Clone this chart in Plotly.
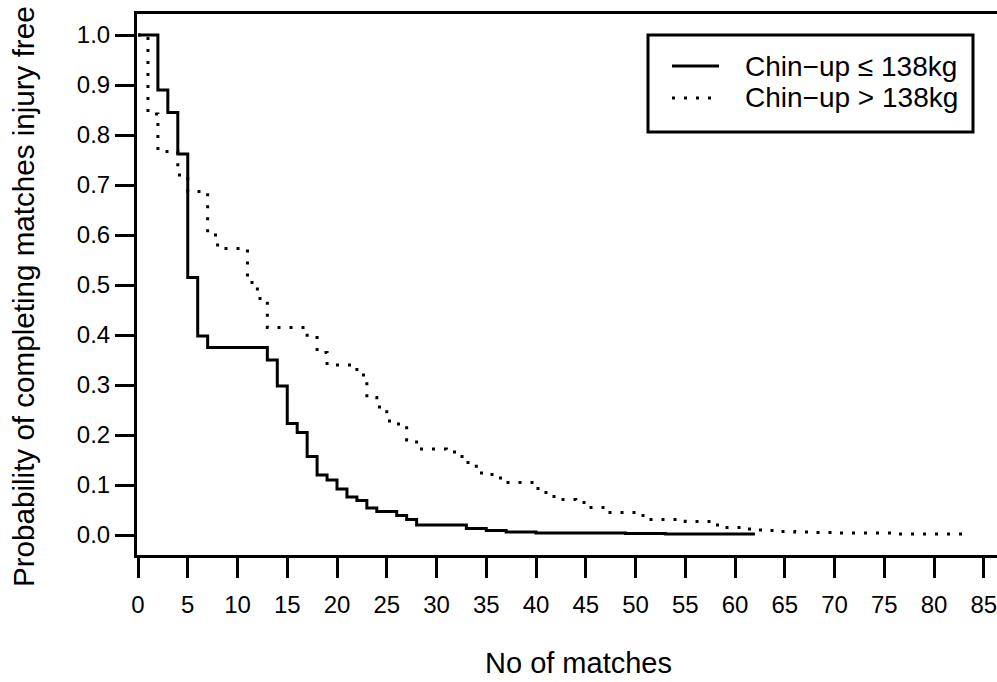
import plotly.graph_objects as go

# Kaplan-Meier style step data
low_x = [0, 2, 3, 4, 5, 6, 7, 13, 14, 15, 16, 17, 18, 19, 20, 21, 22, 23, 24, 26, 27, 28,
         33, 35, 37, 40, 49, 53, 62]
low_y = [1.0, 0.89, 0.845, 0.762, 0.515, 0.398, 0.375, 0.35, 0.298, 0.223, 0.205, 0.157, 0.12,
         0.11, 0.092, 0.076, 0.069, 0.054, 0.047, 0.039, 0.031, 0.02,
         0.013, 0.009, 0.006, 0.004, 0.003, 0.002, 0.002]

high_x = [0, 1, 2, 4, 5, 7, 8, 11, 12, 13, 17, 18, 19, 22, 23, 24, 25, 26, 27, 28, 31, 32, 33,
          34, 35, 36, 37, 40, 41, 42, 44, 45, 47, 50, 51, 55, 58, 59, 61, 62, 63, 64, 66, 68,
          70, 76, 83]
high_y = [1.0, 0.842, 0.767, 0.72, 0.687, 0.60, 0.573, 0.505, 0.473, 0.415, 0.395, 0.365, 0.34,
          0.32, 0.275, 0.256, 0.228, 0.222, 0.19, 0.172, 0.166, 0.157, 0.145, 0.124, 0.121,
          0.114, 0.105, 0.093, 0.077, 0.071, 0.065, 0.055, 0.045, 0.039, 0.031, 0.027, 0.02,
          0.015, 0.012, 0.01, 0.009, 0.007, 0.006, 0.005, 0.004, 0.002, 0.002]

series_names = ["Chin\u2212up \u2264 138kg", "Chin\u2212up &gt; 138kg"]
x_ticks = list(range(0, 90, 5))
y_ticks = [i / 10 for i in range(11)]
x_title = "No of matches"
y_title = "Probability of completing matches injury free"

FONT = "Liberation Sans, Arial, Helvetica, sans-serif"
DOT = "3px,9px"

fig = go.Figure()
fig.add_trace(go.Scatter(x=high_x, y=high_y, mode="lines", line_shape="hv",
                         line=dict(color="black", width=3, dash=DOT),
                         name=series_names[1], showlegend=False))
fig.add_trace(go.Scatter(x=low_x, y=low_y, mode="lines", line_shape="hv",
                         line=dict(color="black", width=3),
                         name=series_names[0], showlegend=False))

W, H = 997, 682
L, R, T, B = 137, 0, 14, 127
pw, ph = W - L - R, H - T - B


def px(xp):
    return (xp - L) / pw


def py(yp):
    return (H - B - yp) / ph


# legend box drawn manually to mimic the R legend
shapes = [
    dict(type="rect", xref="paper", yref="paper", x0=px(648), x1=px(973), y0=py(132), y1=py(35),
         line=dict(color="black", width=3), fillcolor="white"),
    dict(type="line", xref="paper", yref="paper", x0=px(672), x1=px(719), y0=py(66), y1=py(66),
         line=dict(color="black", width=3)),
    dict(type="line", xref="paper", yref="paper", x0=px(672), x1=px(716), y0=py(98), y1=py(98),
         line=dict(color="black", width=3, dash=DOT)),
]
annotations = [
    dict(xref="paper", yref="paper", x=px(743), y=py(66), xanchor="left", yanchor="middle",
         text=series_names[0], showarrow=False, font=dict(family=FONT, size=28, color="black")),
    dict(xref="paper", yref="paper", x=px(743), y=py(98), xanchor="left", yanchor="middle",
         text=series_names[1], showarrow=False, font=dict(family=FONT, size=28, color="black")),
    dict(xref="paper", yref="paper", x=px(23), y=py(297), xanchor="center", yanchor="middle",
         textangle=-90, text=y_title, showarrow=False,
         font=dict(family=FONT, size=29.6, color="black")),
    dict(xref="paper", yref="paper", x=px(578), y=py(663), xanchor="center", yanchor="middle",
         text=x_title, showarrow=False, font=dict(family=FONT, size=29, color="black")),
]

fig.update_layout(
    width=W, height=H,
    margin=dict(l=L, r=R, t=T, b=B, pad=0, autoexpand=False),
    paper_bgcolor="white", plot_bgcolor="white",
    font=dict(family=FONT, color="black"),
    shapes=shapes, annotations=annotations,
    xaxis=dict(range=[-0.1, 86.33], tickvals=x_ticks, ticktext=[str(v) for v in x_ticks],
               automargin=False, ticklabeloverflow="allow",
               showgrid=False, zeroline=False, showline=True, linecolor="black", linewidth=3,
               mirror=True, ticks="outside", ticklen=20, tickwidth=2.5, tickcolor="black",
               tickfont=dict(size=24, family=FONT), ticklabelstandoff=6),
    yaxis=dict(range=[-0.04, 1.042], tickvals=y_ticks, ticktext=[f"{v:.1f}" for v in y_ticks],
               automargin=False, ticklabeloverflow="allow",
               showgrid=False, zeroline=False, showline=True, linecolor="black", linewidth=3,
               mirror=False, ticks="outside", ticklen=19, tickwidth=2.5, tickcolor="black",
               tickfont=dict(size=24, family=FONT)),
)

fig.write_html("out.html", config={"displayModeBar": False},
               post_script="document.body.style.margin='0';")
